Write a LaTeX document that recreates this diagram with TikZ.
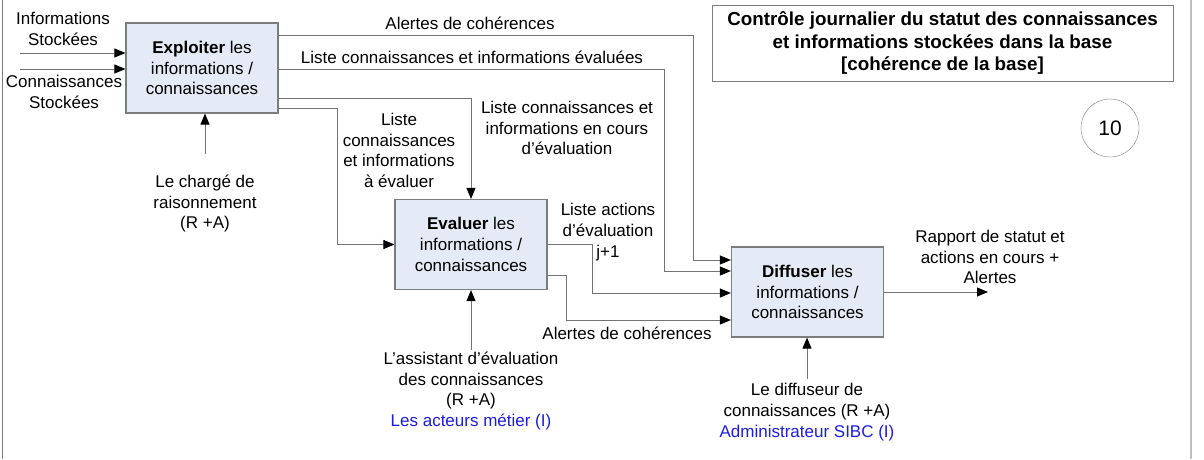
\documentclass[tikz,border=0pt]{standalone}
\usepackage{fontspec}
\setmainfont{Liberation Sans}
\usepackage{tikz}
\usetikzlibrary{
  arrows.meta,
  positioning,
  calc
}
\usepackage{xcolor}
\definecolor{boxfill}{RGB}{228,234,246}
\definecolor{boxline}{RGB}{125,125,125}
\definecolor{flowgray}{RGB}{115,115,115}
\definecolor{roleblue}{RGB}{30,30,215}
\newcommand{\txtsize}{\fontsize{17}{20.8}\selectfont}

\tikzset{
  actbox/.style={draw=boxline, fill=boxfill, line width=1.2pt,
    minimum width=152pt, minimum height=90pt, align=center,
    inner sep=0pt, font=\txtsize},
  flow/.style={draw=flowgray, line width=0.9pt,
    -{Triangle[length=11pt,width=9pt,color=black]}},
  lbl/.style={align=center, inner sep=0pt, font=\txtsize}
}

\begin{document}
\begin{tikzpicture}[x=1pt, y=-1pt]
  \useasboundingbox (0,0) rectangle (1204,459);
  \fill[white] (0,0) rectangle (1204,459);

  % Frame sides
  \draw[boxline, line width=1pt] (2,0) -- (2,459);
  \draw[gray!50, line width=1.6pt] (1191,0) -- (1191,459);

  % Activity boxes
  \node[actbox] (expl) at (202,68)
    {\textbf{Exploiter} les\\informations /\\connaissances};
  \node[actbox] (eval) at (471,244.5)
    {\textbf{Evaluer} les\\informations /\\connaissances};
  \node[actbox] (diff) at (807.5,292)
    {\textbf{Diffuser} les\\informations /\\connaissances};

  % Title and page number
  \node[draw=boxline, line width=1pt, minimum width=461pt, minimum height=76pt,
        align=center, inner sep=0pt,
        font=\bfseries\fontsize{18.8}{22.5}\selectfont] (title) at (942.5,43)
    {Contrôle journalier du statut des connaissances\\
     et informations stockées dans la base\\{[}cohérence de la base{]}};
  \node[draw=boxline, circle, minimum size=58pt, inner sep=0pt,
        font=\fontsize{21}{24}\selectfont] (num) at (1110,128) {10};

  % Bend points
  \coordinate (in1) at (20,53);
  \coordinate (in2) at (20,69);
  \coordinate (c1) at (693,35);
  \coordinate (c2) at (664,69);
  \coordinate (c3) at (471,98);
  \coordinate (c4) at (337,108);
  \coordinate (d1) at (693,260);
  \coordinate (d2) at (664,271);
  \coordinate (e1) at (592,293);
  \coordinate (e2) at (566,320);
  \coordinate (rap) at (988,292);

  % Inputs of Exploiter
  \draw[flow] (in1) -- (in1 -| expl.west);
  \draw[flow] (in2) -- (in2 -| expl.west);
  \node[lbl] (infst) at (63,29) {Informations\\Stockées};
  \node[lbl] (const) at (64,92) {Connaissances\\Stockées};

  % Outputs of Exploiter
  \draw[flow] (expl.east |- c1) -- (c1) -- (d1) -- (d1 -| diff.west);
  \draw[flow] (expl.east |- c2) -- (c2) -- (d2) -- (d2 -| diff.west);
  \draw[flow] (expl.east |- c3) -- (c3) -- (eval.north);
  \draw[flow] (expl.east |- c4) -- (c4) |- (eval.west);
  \node[lbl] (alexp) at (470,23) {Alertes de cohérences};
  \node[lbl] (lstev) at (472,57) {Liste connaissances et informations évaluées};
  \node[lbl] (lstae) at (399,150.5) {Liste\\connaissances\\et informations\\à évaluer};
  \node[lbl] (lstec) at (567,128)
    {Liste connaissances et\\informations en cours\\d’évaluation};

  % Outputs of Evaluer
  \draw[flow] (eval.east) -| (e1) -- (e1 -| diff.west);
  \draw[flow] ([yshift=-30.5pt]eval.east) -| (e2) -- (e2 -| diff.west);
  \node[lbl] (lstac) at (608,232) {Liste actions\\d’évaluation\\j+1};
  \node[lbl] (aleva) at (627,333) {Alertes de cohérences};

  % Output of Diffuser
  \draw[flow] (diff.east) -- (rap);
  \node[lbl] (rapst) at (990,257) {Rapport de statut et\\actions en cours +\\Alertes};

  % Mechanisms
  \node[lbl] (charge) at (205,203.5) {Le chargé de\\raisonnement\\(R +A)};
  \node[lbl] (assist) at (471,391)
    {L’assistant d’évaluation\\des connaissances\\(R +A)\\
     \textcolor{roleblue}{Les acteurs métier (I)}};
  \node[lbl] (diffr) at (807,412)
    {Le diffuseur de\\connaissances (R +A)\\
     \textcolor{roleblue}{Administrateur SIBC (I)}};
  \draw[flow] ([yshift=20pt]charge.north) -- (charge.north |- expl.south);
  \draw[flow] ([yshift=2pt]assist.north) -- (eval.south);
  \draw[flow] ([yshift=4pt]diffr.north) -- (diffr.north |- diff.south);
\end{tikzpicture}
\end{document}
